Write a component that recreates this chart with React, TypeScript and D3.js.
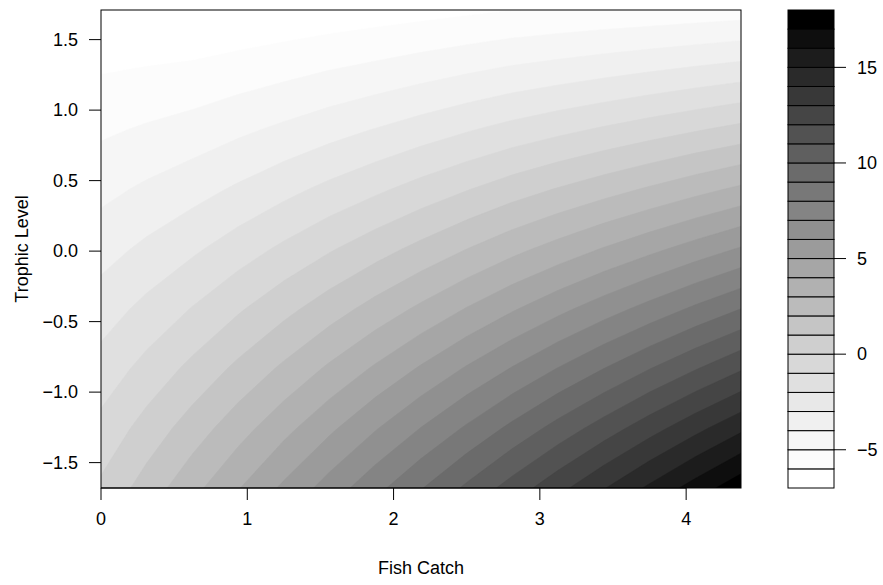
import React, { useEffect, useRef } from 'react';
import * as d3 from 'd3';

// grid of the surface (rows top -> bottom)
const fishCatch = [0, 0.3125, 0.625, 0.9375, 1.25, 1.5625, 1.875, 2.1875, 2.5, 2.8125, 3.125, 3.4375, 3.75, 4.0625, 4.375];
const trophicLevel = [1.71, 1.28625, 0.8625, 0.43875, 0.015, -0.40875, -0.8325, -1.25625, -1.68];
const zRows = [
  [-6.96, -6.99, -7.02, -6.92, -6.79, -6.65, -6.51, -6.36, -6.19, -6.02, -5.91, -5.80, -5.71, -5.60, -5.49],
  [-6.07, -5.94, -5.81, -5.56, -5.30, -5.01, -4.74, -4.44, -4.14, -3.84, -3.59, -3.34, -3.09, -2.84, -2.59],
  [-5.17, -4.88, -4.59, -4.20, -3.80, -3.38, -2.96, -2.53, -2.09, -1.66, -1.26, -0.87, -0.48, -0.09, 0.30],
  [-4.28, -3.83, -3.38, -2.85, -2.30, -1.74, -1.19, -0.62, -0.05, 0.53, 1.07, 1.60, 2.13, 2.67, 3.20],
  [-3.39, -2.78, -2.17, -1.49, -0.80, -0.10, 0.59, 1.29, 2.00, 2.71, 3.39, 4.07, 4.74, 5.42, 6.10],
  [-2.49, -1.72, -0.95, -0.13, 0.70, 1.53, 2.37, 3.20, 4.05, 4.89, 5.72, 6.54, 7.35, 8.18, 9.00],
  [-1.60, -0.67, 0.26, 1.23, 2.19, 3.17, 4.14, 5.12, 6.10, 7.07, 8.04, 9.00, 9.97, 10.93, 11.89],
  [-0.70, 0.39, 1.48, 2.58, 3.69, 4.80, 5.92, 7.03, 8.14, 9.26, 10.37, 11.47, 12.58, 13.69, 14.79],
  [0.19, 1.44, 2.69, 3.94, 5.19, 6.44, 7.69, 8.94, 10.19, 11.44, 12.69, 13.94, 15.19, 16.44, 17.69],
];
const levels = d3.range(-7, 19, 1);
const xTicks = [0, 1, 2, 3, 4];
const yTicks = [-1.5, -1.0, -0.5, 0.0, 0.5, 1.0, 1.5];
const keyTicks = [-5, 0, 5, 10, 15];

const FONT = '"Liberation Sans", Arial, Helvetica, sans-serif';
const minus = (s: string) => s.replace('-', '\u2212');

export default function App() {
  const svgRef = useRef<SVGSVGElement>(null);

  useEffect(() => {
    const width = 883, height = 585;
    const plot = { left: 101, right: 741, top: 10, bottom: 488 };
    const key = { left: 788, right: 834 };

    const svg = d3.select(svgRef.current)
      .attr('width', width)
      .attr('height', height);
    svg.selectAll('*').remove();

    const xScale = d3.scaleLinear()
      .domain([fishCatch[0], fishCatch[fishCatch.length - 1]])
      .range([plot.left, plot.right]);
    const yScale = d3.scaleLinear()
      .domain([trophicLevel[trophicLevel.length - 1], trophicLevel[0]])
      .range([plot.bottom, plot.top]);

    const nx = fishCatch.length, ny = trophicLevel.length;
    // d3.contours puts sample k at grid coordinate k + 0.5
    const gx = d3.scaleLinear().domain([0.5, nx - 0.5]).range([xScale(fishCatch[0]), xScale(fishCatch[nx - 1])]);
    const gy = d3.scaleLinear().domain([0.5, ny - 0.5]).range([yScale(trophicLevel[0]), yScale(trophicLevel[ny - 1])]);

    // white -> black grey ramp, a bit lighter in the middle than a straight ramp
    const nBands = levels.length - 1;
    const shade = (i: number) => {
      const v = Math.round(255 * (1 - Math.pow(i / (nBands - 1), 1.35)));
      return d3.rgb(v, v, v).formatHex();
    };

    const values = zRows.flat();
    const contours = d3.contours()
      .size([nx, ny])
      .thresholds(levels.slice(0, -1))(values);

    const path = d3.geoPath(d3.geoTransform({
      point(x: number, y: number) { this.stream.point(gx(x), gy(y)); }
    }));

    svg.append('clipPath').attr('id', 'plotclip')
      .append('rect')
      .attr('x', plot.left).attr('y', plot.top)
      .attr('width', plot.right - plot.left).attr('height', plot.bottom - plot.top);

    const g = svg.append('g').attr('clip-path', 'url(#plotclip)');
    g.append('rect')
      .attr('x', plot.left).attr('y', plot.top)
      .attr('width', plot.right - plot.left).attr('height', plot.bottom - plot.top)
      .attr('fill', '#ffffff');
    g.selectAll('path')
      .data(contours)
      .join('path')
      .attr('d', d => path(d as any))
      .attr('fill', (d, i) => shade(i))
      .attr('stroke', (d, i) => shade(i))
      .attr('stroke-width', 0.5);

    // plot box
    svg.append('rect')
      .attr('x', plot.left).attr('y', plot.top)
      .attr('width', plot.right - plot.left).attr('height', plot.bottom - plot.top)
      .attr('fill', 'none').attr('stroke', '#000').attr('stroke-width', 1);

    // x axis
    const xAxis = svg.append('g');
    xAxis.selectAll('line').data(xTicks).join('line')
      .attr('x1', d => xScale(d)).attr('x2', d => xScale(d))
      .attr('y1', plot.bottom).attr('y2', plot.bottom + 12)
      .attr('stroke', '#000');
    xAxis.append('line')
      .attr('x1', xScale(xTicks[0])).attr('x2', xScale(xTicks[xTicks.length - 1]))
      .attr('y1', plot.bottom).attr('y2', plot.bottom).attr('stroke', '#000');
    xAxis.selectAll('text').data(xTicks).join('text')
      .attr('x', d => xScale(d)).attr('y', 525)
      .attr('text-anchor', 'middle')
      .attr('font-family', FONT).attr('font-size', 18)
      .text(d => String(d));

    // y axis
    const yAxis = svg.append('g');
    yAxis.selectAll('line').data(yTicks).join('line')
      .attr('x1', plot.left - 12).attr('x2', plot.left)
      .attr('y1', d => yScale(d)).attr('y2', d => yScale(d))
      .attr('stroke', '#000');
    yAxis.selectAll('text').data(yTicks).join('text')
      .attr('x', 78).attr('y', d => yScale(d))
      .attr('dy', '0.35em')
      .attr('text-anchor', 'end')
      .attr('font-family', FONT).attr('font-size', 18)
      .text(d => minus(d.toFixed(1)));

    svg.append('text')
      .attr('x', (plot.left + plot.right) / 2).attr('y', 574)
      .attr('text-anchor', 'middle')
      .attr('font-family', FONT).attr('font-size', 18)
      .text('Fish Catch');
    svg.append('text')
      .attr('transform', `translate(28, ${(plot.top + plot.bottom) / 2}) rotate(-90)`)
      .attr('text-anchor', 'middle')
      .attr('font-family', FONT).attr('font-size', 18)
      .text('Trophic Level');

    // colour key
    const keyScale = d3.scaleLinear()
      .domain([levels[0], levels[levels.length - 1]])
      .range([plot.bottom, plot.top]);
    const keyG = svg.append('g');
    keyG.selectAll('rect').data(levels.slice(0, -1)).join('rect')
      .attr('x', key.left).attr('width', key.right - key.left)
      .attr('y', d => keyScale(d + 1)).attr('height', d => keyScale(d) - keyScale(d + 1))
      .attr('fill', (d, i) => shade(i))
      .attr('stroke', '#000').attr('stroke-width', 1);
    keyG.selectAll('line').data(keyTicks).join('line')
      .attr('x1', key.right).attr('x2', key.right + 12)
      .attr('y1', d => keyScale(d)).attr('y2', d => keyScale(d))
      .attr('stroke', '#000');
    keyG.selectAll('text').data(keyTicks).join('text')
      .attr('x', 857).attr('y', d => keyScale(d))
      .attr('dy', '0.35em')
      .attr('font-family', FONT).attr('font-size', 18)
      .text(d => minus(String(d)));
  }, []);

  return (
    <div style={{ position: 'absolute', left: 0, top: 0 }}>
      <svg ref={svgRef}></svg>
    </div>
  );
}
